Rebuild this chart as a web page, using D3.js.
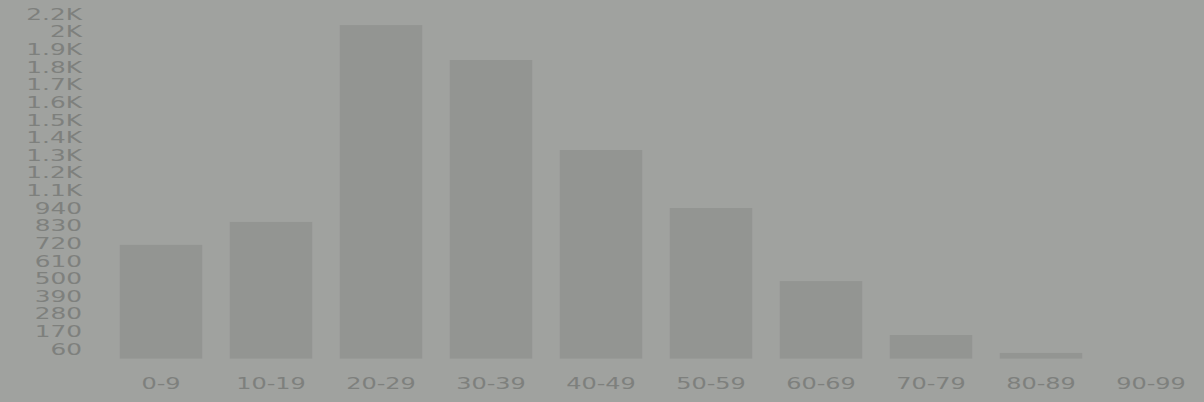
<!DOCTYPE html>
<html>
<head>
<meta charset="utf-8">
<script src="https://cdn.jsdelivr.net/npm/d3@7"></script>
<style>
  html, body { margin: 0; padding: 0; background: #a0a29f; }
  svg { display: block; }
  text { font-family: "DejaVu Sans", sans-serif; }
</style>
</head>
<body>
<script>
const categories = ["0-9", "10-19", "20-29", "30-39", "40-49", "50-59", "60-69", "70-79", "80-89", "90-99"];
const values = [710, 853, 2082, 1864, 1302, 940, 484, 147, 35, 0];
const yTickValues = [60, 170, 280, 390, 500, 610, 720, 830, 940, 1050, 1160, 1270, 1380, 1490, 1600, 1710, 1820, 1930, 2040, 2150];

const W = 1204, H = 402;
const svg = d3.select("body").append("svg").attr("width", W).attr("height", H);

svg.append("rect").attr("width", W).attr("height", H).attr("fill", "#a0a29f");

const x = d3.scaleBand().domain(categories).range([106, 1206]).paddingInner(0.25).paddingOuter(0.125);
const y = d3.scaleLinear().domain([0, 2200]).range([358.6, 6.2]);

const fmt = v => d3.format(".2~s")(v).replace("k", "K");

svg.append("g").selectAll("rect").data(values).join("rect")
  .attr("x", (d, i) => x(categories[i]))
  .attr("width", x.bandwidth())
  .attr("y", d => y(d))
  .attr("height", d => y(0) - y(d))
  .attr("fill", "#939592");

const textColor = "#7e807d";

const yAxis = svg.append("g").attr("transform", "translate(100,0)")
  .call(d3.axisLeft(y).tickValues(yTickValues).tickFormat(fmt).tickSize(0).tickPadding(0));
yAxis.select(".domain").remove();
yAxis.selectAll("text")
  .attr("x", 0)
  .attr("transform", "translate(-18,0) scale(1.55,1)")
  .attr("fill", textColor)
  .attr("font-size", "16px");

const xAxis = svg.append("g").attr("transform", `translate(0,${y(0)})`)
  .call(d3.axisBottom(x).tickSize(0).tickPadding(19));
xAxis.select(".domain").remove();
xAxis.selectAll("text")
  .attr("transform", "scale(1.5,1)")
  .attr("fill", textColor)
  .attr("font-size", "16px");
</script>
</body>
</html>
